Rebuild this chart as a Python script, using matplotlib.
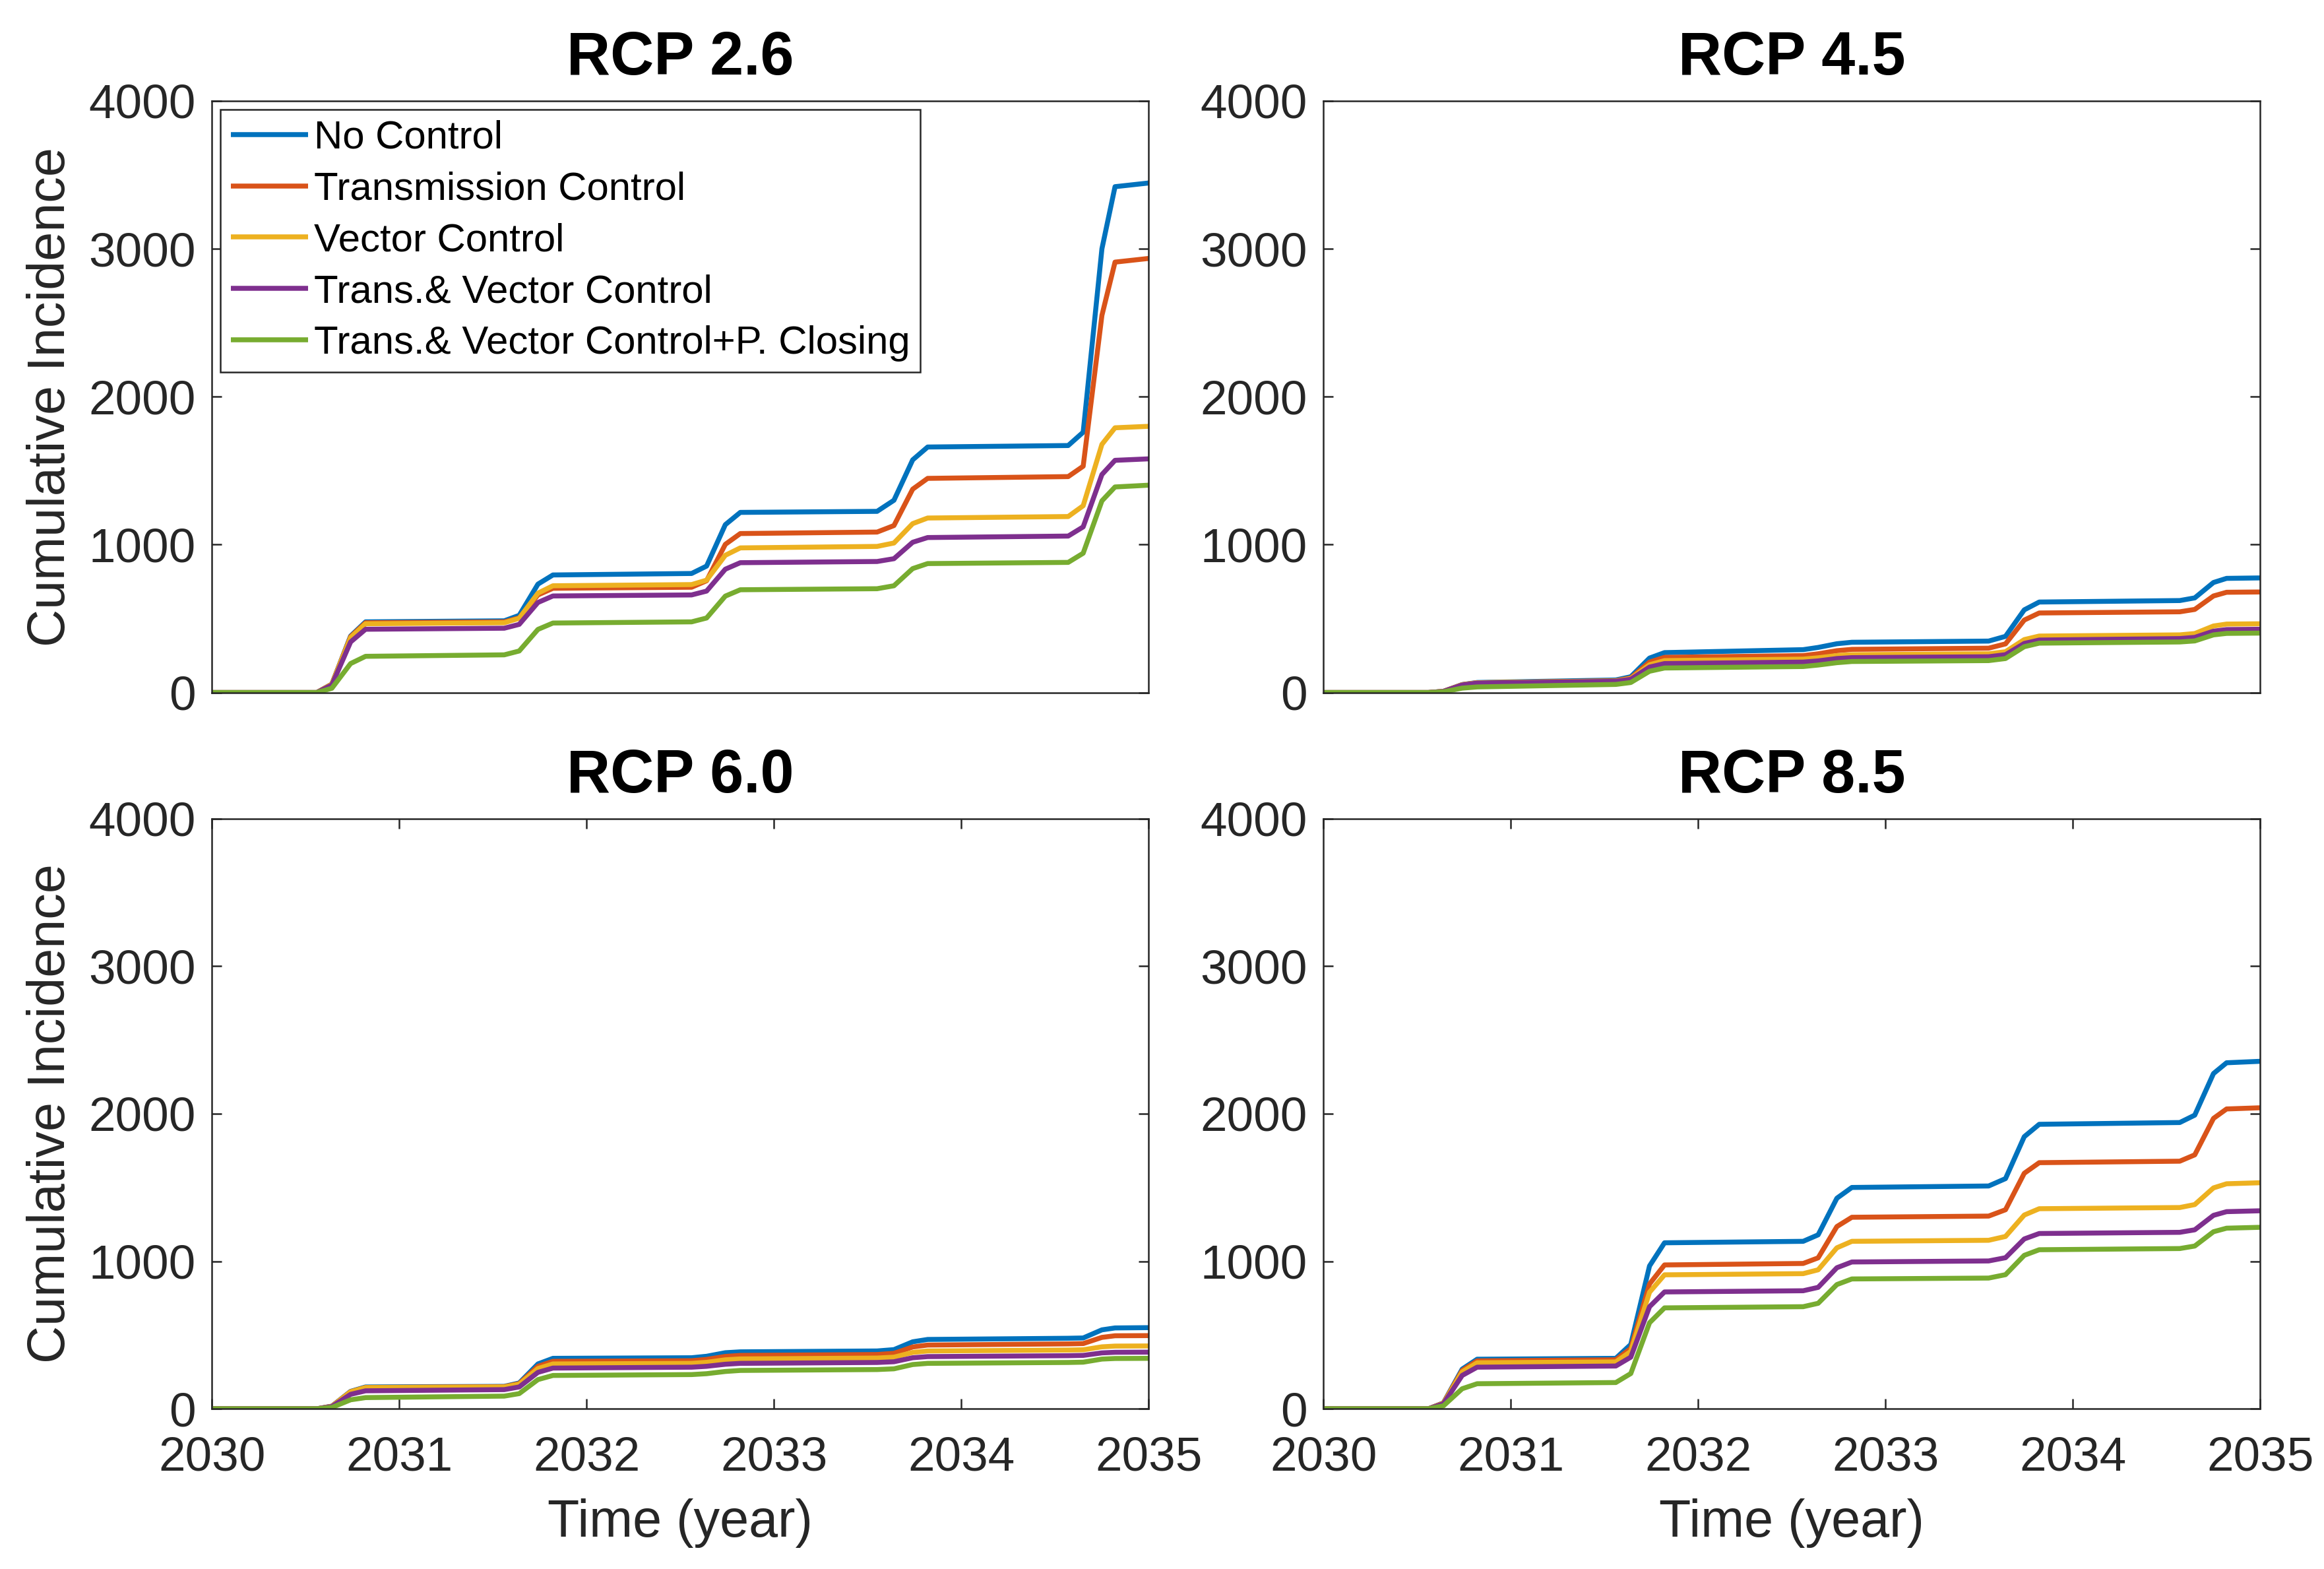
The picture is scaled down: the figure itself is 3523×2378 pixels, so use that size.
import matplotlib
matplotlib.use("Agg")
import matplotlib.pyplot as plt

plt.rcParams['font.family'] = ['Liberation Sans', 'DejaVu Sans']

# time points (year) shared by all curves
years = [2030.00, 2030.56, 2030.64, 2030.74, 2030.82,
         2031.56, 2031.64, 2031.74, 2031.82,
         2032.56, 2032.64, 2032.74, 2032.82,
         2033.55, 2033.64, 2033.74, 2033.82,
         2034.57, 2034.65, 2034.75, 2034.82, 2035.00]

labels = ['No Control', 'Transmission Control', 'Vector Control',
          'Trans.& Vector Control', 'Trans.& Vector Control+P. Closing']
colors = ['#0072BD', '#D95319', '#EDB120', '#7E2F8E', '#77AC30']
titles = ['RCP 2.6', 'RCP 4.5', 'RCP 6.0', 'RCP 8.5']

# RCP 2.6
rcp26_no = [0, 0, 57, 382, 478, 485, 522, 733, 795, 805, 855, 1135, 1218, 1225, 1300, 1573, 1660, 1670, 1760, 3000, 3420, 3445]
rcp26_trans = [0, 0, 57, 378, 472, 478, 505, 660, 705, 712, 756, 1002, 1075, 1085, 1129, 1375, 1448, 1460, 1530, 2550, 2910, 2935]
rcp26_vec = [0, 0, 56, 372, 465, 472, 502, 672, 722, 730, 760, 928, 978, 988, 1011, 1142, 1180, 1190, 1263, 1678, 1790, 1800]
rcp26_tv = [0, 0, 51, 342, 428, 435, 461, 609, 653, 660, 686, 834, 878, 886, 905, 1016, 1048, 1058, 1120, 1474, 1570, 1580]
rcp26_tvp = [0, 0, 29, 196, 245, 255, 281, 427, 470, 478, 504, 652, 695, 702, 722, 838, 872, 880, 942, 1296, 1390, 1402]

# RCP 4.5
rcp45_no = [0, 0, 8, 54, 68, 85, 107, 233, 270, 290, 305, 330, 340, 348, 380, 559, 612, 622, 640, 744, 772, 775]
rcp45_trans = [0, 0, 8, 53, 66, 80, 99, 206, 238, 250, 262, 283, 292, 300, 329, 490, 538, 546, 562, 653, 678, 680]
rcp45_vec = [0, 0, 8, 53, 66, 78, 95, 188, 216, 226, 235, 250, 256, 262, 276, 358, 382, 390, 399, 450, 463, 465]
rcp45_tv = [0, 0, 8, 51, 64, 76, 90, 172, 196, 206, 214, 230, 236, 242, 256, 332, 355, 365, 373, 415, 426, 428]
rcp45_tvp = [0, 0, 5, 30, 38, 55, 68, 144, 166, 176, 186, 202, 210, 216, 230, 310, 334, 342, 349, 390, 400, 402]

# RCP 6.0
rcp60_no = [0, 0, 18, 118, 148, 152, 175, 304, 342, 346, 356, 380, 386, 392, 401, 454, 470, 478, 480, 535, 548, 550]
rcp60_trans = [0, 0, 17, 116, 145, 150, 171, 288, 322, 326, 335, 355, 362, 368, 376, 419, 432, 440, 442, 484, 495, 496]
rcp60_vec = [0, 0, 17, 115, 144, 148, 167, 273, 304, 308, 315, 332, 338, 344, 350, 382, 392, 398, 400, 420, 425, 426]
rcp60_tv = [0, 0, 15, 98, 122, 130, 148, 247, 276, 282, 288, 302, 308, 314, 319, 346, 354, 360, 362, 379, 383, 384]
rcp60_tvp = [0, 0, 9, 61, 76, 86, 103, 198, 226, 232, 238, 253, 260, 266, 271, 300, 308, 314, 316, 337, 341, 342]

# RCP 8.5
rcp85_no = [0, 0, 40, 269, 336, 342, 436, 968, 1125, 1135, 1179, 1427, 1500, 1510, 1560, 1844, 1928, 1940, 1990, 2272, 2345, 2355]
rcp85_trans = [0, 0, 39, 260, 325, 332, 409, 846, 975, 985, 1023, 1235, 1298, 1306, 1349, 1596, 1668, 1678, 1721, 1968, 2032, 2040]
rcp85_vec = [0, 0, 37, 250, 312, 318, 389, 790, 908, 916, 942, 1091, 1135, 1142, 1168, 1313, 1356, 1364, 1384, 1497, 1525, 1532]
rcp85_tv = [0, 0, 34, 226, 282, 290, 350, 692, 792, 800, 823, 956, 995, 1002, 1024, 1151, 1188, 1196, 1213, 1311, 1336, 1342]
rcp85_tvp = [0, 0, 20, 136, 170, 178, 239, 583, 684, 692, 715, 842, 880, 886, 909, 1040, 1078, 1086, 1103, 1200, 1224, 1230]

panels = [
    [rcp26_no, rcp26_trans, rcp26_vec, rcp26_tv, rcp26_tvp],
    [rcp45_no, rcp45_trans, rcp45_vec, rcp45_tv, rcp45_tvp],
    [rcp60_no, rcp60_trans, rcp60_vec, rcp60_tv, rcp60_tvp],
    [rcp85_no, rcp85_trans, rcp85_vec, rcp85_tv, rcp85_tvp],
]

dark = (0.15, 0.15, 0.15)

fig = plt.figure(figsize=(3523 / 300, 2378 / 300), dpi=300)
# axes rectangles [left, bottom, width, height] in figure fraction
rects = [
    [0.0912, 0.5586, 0.4031, 0.3771],
    [0.5695, 0.5586, 0.4031, 0.3771],
    [0.0912, 0.1021, 0.4031, 0.3762],
    [0.5695, 0.1021, 0.4031, 0.3762],
]

for i, series in enumerate(panels):
    ax = fig.add_axes(rects[i])
    for vals, c, lab in zip(series, colors, labels):
        ax.plot(years, vals, color=c, lw=1.8, label=lab, solid_capstyle='butt')

    ax.set_xlim(2030, 2035)
    ax.set_ylim(0, 4000)
    ax.set_yticks([0, 1000, 2000, 3000, 4000])
    ax.set_title(titles[i], fontsize=22, fontweight='bold', pad=9.6)

    if i >= 2:
        ax.set_xticks([2030, 2031, 2032, 2033, 2034, 2035])
        ax.set_xlabel('Time (year)', fontsize=19, color=dark, labelpad=6.5)
    else:
        ax.set_xticks([])
    if i % 2 == 0:
        ax.set_ylabel('Cumulative Incidence', fontsize=19, color=dark, labelpad=4.5)

    ax.tick_params(direction='in', length=3.6, width=0.6, colors=dark,
                   labelsize=17.5, top=True, right=True, pad=6)
    ax.tick_params(axis='x', pad=10)
    for s in ax.spines.values():
        s.set_color(dark)
        s.set_linewidth(0.6)

    if i == 0:
        leg = ax.legend(loc='upper left', fontsize=14.4, frameon=True, fancybox=False,
                        framealpha=1, edgecolor=dark, borderaxespad=0.22,
                        handlelength=1.95, handletextpad=0.15, labelspacing=0.38,
                        borderpad=0.26)
        leg.get_frame().set_linewidth(0.6)

fig.savefig('out.png', dpi=300)
